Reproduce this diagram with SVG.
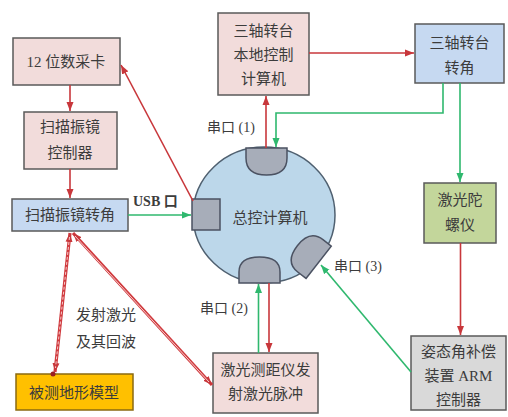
<svg xmlns="http://www.w3.org/2000/svg" width="508" height="417" viewBox="0 0 508 417">
<style>
.box{stroke:#5a5a5a;stroke-width:1.5}
.pink{fill:#f2dcdb}
.blue{fill:#c6d9f1}
.green{fill:#c3d69b}
.grey{fill:#d9d9d9}
.yellow{fill:#ffc000;stroke:#8a6a10}
.t{font-family:"Liberation Serif","Noto Sans CJK SC",serif;font-size:15px;fill:#3c3c3c;text-anchor:middle;dominant-baseline:central}
.lbl{font-family:"Liberation Serif","Noto Sans CJK SC",serif;font-size:14px;fill:#3c3c3c;dominant-baseline:central}
.r{fill:none;stroke:#c8373b;stroke-width:1.6}
.g{fill:none;stroke:#2fb86e;stroke-width:1.6}
.port{fill:#a7adb9;stroke:#4b5262;stroke-width:1.5}
</style>
<defs>
<marker id="ar" markerUnits="userSpaceOnUse" markerWidth="10" markerHeight="8" refX="9" refY="4" orient="auto-start-reverse"><path d="M0,0.5 L9,4 L0,7.5 Z" fill="#c8373b"/></marker>
<marker id="ag" markerUnits="userSpaceOnUse" markerWidth="10" markerHeight="8" refX="9" refY="4" orient="auto-start-reverse"><path d="M0,0.5 L9,4 L0,7.5 Z" fill="#2fb86e"/></marker>
</defs>
<rect width="508" height="417" fill="#ffffff"/>

<g id="computer">
<ellipse cx="264" cy="215" rx="71" ry="68" fill="#bcd7ea" stroke="#4f6070" stroke-width="1.5"/>
<text class="t" x="270" y="218">总控计算机</text>
<path class="port" d="M246,148 H287 V158 Q287,175 266.5,175 Q246,175 246,158 Z"/>
<path class="port" d="M239,283 H280 V272 Q280,257 259.5,257 Q239,257 239,272 Z"/>
<rect class="port" x="192" y="199" width="28" height="31"/>
<path class="port" transform="translate(308,254) rotate(-52)" d="M-20.5,13.5 H20.5 V3 Q20.5,-13.5 0,-13.5 Q-20.5,-13.5 -20.5,3 Z"/>
</g>

<g id="daq"><rect class="box pink" x="13" y="38" width="107" height="47"/><text class="t" x="66" y="62">12 位数采卡</text></g>
<g id="scanctrl"><rect class="box pink" x="24" y="112" width="93" height="57"/><text class="t" x="70" y="127">扫描振镜</text><text class="t" x="70" y="153">控制器</text></g>
<g id="scanangle"><rect class="box blue" x="12" y="199" width="116" height="32"/><text class="t" x="70" y="215">扫描振镜转角</text></g>
<g id="terrain"><rect class="box yellow" x="16" y="374" width="117" height="36"/><text class="t" x="74" y="393">被测地形模型</text></g>
<g id="turretpc"><rect class="box pink" x="218" y="13" width="91" height="82"/><text class="t" x="263.5" y="31">三轴转台</text><text class="t" x="263.5" y="55">本地控制</text><text class="t" x="263.5" y="79">计算机</text></g>
<g id="turretangle"><rect class="box blue" x="415" y="24" width="89" height="59"/><text class="t" x="459.5" y="43">三轴转台</text><text class="t" x="459.5" y="68">转角</text></g>
<g id="gyro"><rect class="box green" x="424" y="183" width="72" height="60"/><text class="t" x="460" y="200">激光陀</text><text class="t" x="460" y="225">螺仪</text></g>
<g id="arm"><rect class="box grey" x="411" y="336" width="95" height="74"/><text class="t" x="458.5" y="352">姿态角补偿</text><text class="t" x="458.5" y="376">装置 ARM</text><text class="t" x="458.5" y="400">控制器</text></g>
<g id="rangefinder"><rect class="box pink" x="213" y="353" width="105" height="60"/><text class="t" x="265.5" y="370">激光测距仪发</text><text class="t" x="265.5" y="394">射激光脉冲</text></g>

<g id="connectors">
<line class="r" x1="70" y1="85" x2="70" y2="111" marker-end="url(#ar)"/>
<line class="r" x1="70" y1="169" x2="70" y2="198" marker-end="url(#ar)"/>
<line class="r" x1="193" y1="201" x2="121" y2="65" marker-end="url(#ar)"/>
<line class="g" x1="128" y1="215" x2="191" y2="215" marker-end="url(#ag)"/>
<line class="r" x1="266" y1="148" x2="266" y2="96" marker-end="url(#ar)"/>
<line class="r" x1="309" y1="53" x2="414" y2="53" marker-end="url(#ar)"/>
<polyline class="g" points="443,83 443,113 276,113 276,147" marker-end="url(#ag)"/>
<line class="g" x1="460" y1="83" x2="460" y2="182" marker-end="url(#ag)"/>
<line class="r" x1="460.5" y1="243" x2="460.5" y2="335" marker-end="url(#ar)"/>
<line class="g" x1="411" y1="372" x2="321" y2="265" marker-end="url(#ag)"/>
<line class="g" x1="258.5" y1="353" x2="258.5" y2="284" marker-end="url(#ag)"/>
<line class="r" x1="269" y1="283" x2="269" y2="352" marker-end="url(#ar)"/>
<line x1="70" y1="233" x2="55" y2="372" stroke="#d03a3e" stroke-width="3.2" marker-start="url(#ar)" marker-end="url(#ar)"/>
<line x1="69.5" y1="237" x2="55.5" y2="368" stroke="#f7caca" stroke-width="1" stroke-dasharray="3,2"/>
<line x1="73" y1="233" x2="212" y2="385" stroke="#d03a3e" stroke-width="3.2" marker-start="url(#ar)" marker-end="url(#ar)"/>
<line x1="75" y1="236" x2="209" y2="382" stroke="#f7caca" stroke-width="1"/>
<circle cx="53" cy="374" r="2.5" fill="#9a1f22"/>
</g>

<text class="lbl" x="133" y="201" font-weight="bold">USB 口</text>
<text class="lbl" x="207" y="127">串口 (1)</text>
<text class="lbl" x="200" y="308">串口 (2)</text>
<text class="lbl" x="334" y="266">串口 (3)</text>
<text class="t" x="106" y="315">发射激光</text>
<text class="t" x="106" y="342">及其回波</text>
</svg>
